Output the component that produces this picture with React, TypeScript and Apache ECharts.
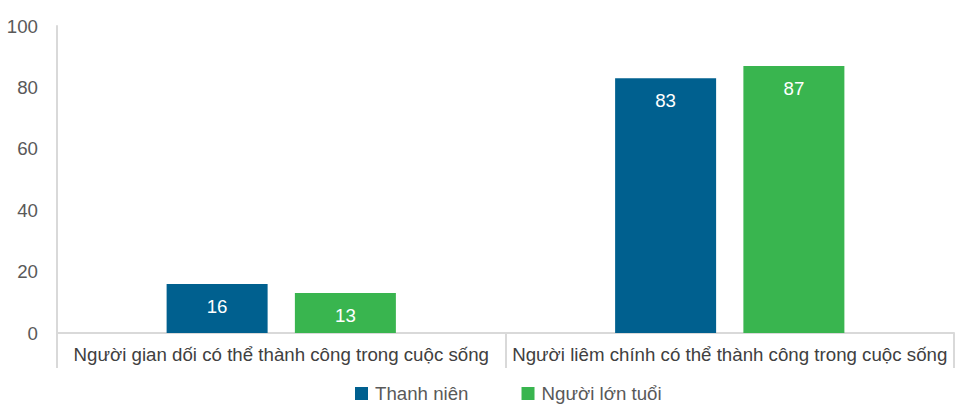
import React, { useEffect, useRef } from "react";
import * as echarts from "echarts";

const categories = [
  "Người gian dối có thể thành công trong cuộc sống",
  "Người liêm chính có thể thành công trong cuộc sống",
];
const seriesNames = ["Thanh niên", "Người lớn tuổi"];
const youthValues = [16, 83];
const elderValues = [13, 87];
const yTicks = { min: 0, max: 100, interval: 20 };

const FONT = "'Liberation Sans', Arial, sans-serif";
const FS = 18.7;

export default function App() {
  const ref = useRef<HTMLDivElement>(null);
  useEffect(() => {
    if (!ref.current) return;
    const chart = echarts.init(ref.current, undefined, { renderer: "svg" });
    const labelCfg = {
      show: true,
      position: "insideTop",
      distance: 13,
      color: "#ffffff",
      fontSize: FS,
      fontFamily: FONT,
    };
    chart.setOption({
      animation: false,
      textStyle: { fontFamily: FONT },
      grid: { left: 57, right: 1, top: 26, bottom: 72, containLabel: false },
      legend: {
        left: 355,
        top: 384,
        padding: 0,
        itemWidth: 13,
        itemHeight: 13,
        itemGap: 53,
        icon: "rect",
        textStyle: { fontSize: FS, color: "#595959", fontFamily: FONT, padding: [0, 0, 0, 2] },
        data: seriesNames,
      },
      xAxis: {
        type: "category",
        data: categories,
        boundaryGap: true,
        axisLine: { show: true, lineStyle: { color: "#d9d9d9", width: 2 } },
        axisTick: { show: true, length: 35, lineStyle: { color: "#d9d9d9", width: 2 } },
        axisLabel: { color: "#404040", fontSize: FS, margin: 12, fontFamily: FONT, interval: 0 },
      },
      yAxis: {
        type: "value",
        min: yTicks.min,
        max: yTicks.max,
        interval: yTicks.interval,
        axisLine: { show: true, lineStyle: { color: "#d9d9d9", width: 2 } },
        axisTick: { show: false },
        splitLine: { show: false },
        axisLabel: { color: "#595959", fontSize: FS, margin: 19, fontFamily: FONT },
      },
      series: [
        {
          name: seriesNames[0],
          type: "bar",
          data: youthValues,
          barWidth: 101,
          barGap: "27%",
          itemStyle: { color: "#00608F" },
          label: labelCfg,
        },
        {
          name: seriesNames[1],
          type: "bar",
          data: elderValues,
          barWidth: 101,
          barGap: "27%",
          itemStyle: { color: "#39B54F" },
          label: labelCfg,
        },
      ],
    });
    return () => chart.dispose();
  }, []);
  return (
    <div
      ref={ref}
      style={{ position: "absolute", left: 0, top: 0, width: 955, height: 405 }}
    />
  );
}
